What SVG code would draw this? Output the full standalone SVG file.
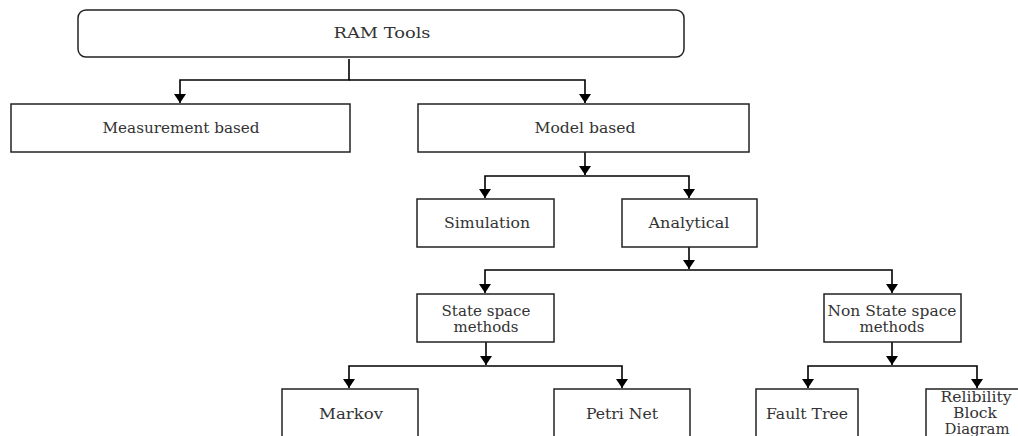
<svg xmlns="http://www.w3.org/2000/svg" width="1018" height="436" viewBox="0 0 1018 436">
<defs>
<marker id="arr" viewBox="0 0 9 12" refX="9" refY="6" markerWidth="9" markerHeight="12" markerUnits="userSpaceOnUse" orient="auto">
<path d="M0,0 L9,6 L0,12 z" fill="#000"/>
</marker>
<style>
.box{fill:#fff;stroke:#222;stroke-width:1.5}
.lbl{font-family:"DejaVu Serif","Liberation Serif",serif;font-size:15.5px;fill:#333;text-anchor:middle}
.c{fill:none;stroke:#000;stroke-width:1.6}
</style>
</defs>
<rect width="1018" height="436" fill="#fff"/>
<g id="connectors">
<path class="c" d="M349,59 V80 H180 V103" marker-end="url(#arr)"/>
<path class="c" d="M349,80 H585 V103" marker-end="url(#arr)"/>
<path class="c" d="M585,152 V175" marker-end="url(#arr)"/>
<path class="c" d="M585,176 H485 V198" marker-end="url(#arr)"/>
<path class="c" d="M585,176 H689 V198" marker-end="url(#arr)"/>
<path class="c" d="M689,247 V269" marker-end="url(#arr)"/>
<path class="c" d="M689,270 H485 V293" marker-end="url(#arr)"/>
<path class="c" d="M689,270 H892 V293" marker-end="url(#arr)"/>
<path class="c" d="M486,342 V365" marker-end="url(#arr)"/>
<path class="c" d="M486,366 H349 V388" marker-end="url(#arr)"/>
<path class="c" d="M486,366 H622 V388" marker-end="url(#arr)"/>
<path class="c" d="M892,342 V365" marker-end="url(#arr)"/>
<path class="c" d="M892,366 H808 V388" marker-end="url(#arr)"/>
<path class="c" d="M892,366 H977 V388" marker-end="url(#arr)"/>
</g>
<g id="ram-tools">
<rect class="box" x="78" y="10" width="606" height="47" rx="8"/>
<text class="lbl" x="382" y="38" textLength="97" lengthAdjust="spacingAndGlyphs">RAM Tools</text>
</g>
<g id="measurement">
<rect class="box" x="11" y="104" width="339" height="48"/>
<text class="lbl" x="181" y="133" textLength="157" lengthAdjust="spacingAndGlyphs">Measurement based</text>
</g>
<g id="model">
<rect class="box" x="418" y="104" width="331" height="48"/>
<text class="lbl" x="585" y="133" textLength="101" lengthAdjust="spacingAndGlyphs">Model based</text>
</g>
<g id="simulation">
<rect class="box" x="417" y="199" width="137" height="48"/>
<text class="lbl" x="487" y="228" textLength="86" lengthAdjust="spacingAndGlyphs">Simulation</text>
</g>
<g id="analytical">
<rect class="box" x="622" y="199" width="135" height="48"/>
<text class="lbl" x="689" y="228" textLength="81" lengthAdjust="spacingAndGlyphs">Analytical</text>
</g>
<g id="state-space">
<rect class="box" x="417" y="294" width="137" height="48"/>
<text class="lbl" x="486" y="316" textLength="89" lengthAdjust="spacingAndGlyphs">State space</text>
<text class="lbl" x="486" y="332" textLength="65" lengthAdjust="spacingAndGlyphs">methods</text>
</g>
<g id="non-state-space">
<rect class="box" x="824" y="294" width="137" height="48"/>
<text class="lbl" x="892" y="316" textLength="129" lengthAdjust="spacingAndGlyphs">Non State space</text>
<text class="lbl" x="892" y="332" textLength="65" lengthAdjust="spacingAndGlyphs">methods</text>
</g>
<g id="markov">
<rect class="box" x="282" y="389" width="136" height="70"/>
<text class="lbl" x="351" y="419" textLength="64" lengthAdjust="spacingAndGlyphs">Markov</text>
</g>
<g id="petri-net">
<rect class="box" x="554" y="389" width="136" height="70"/>
<text class="lbl" x="622" y="419" textLength="72" lengthAdjust="spacingAndGlyphs">Petri Net</text>
</g>
<g id="fault-tree">
<rect class="box" x="756" y="389" width="102" height="70"/>
<text class="lbl" x="807" y="419" textLength="82" lengthAdjust="spacingAndGlyphs">Fault Tree</text>
</g>
<g id="rbd">
<rect class="box" x="926" y="389" width="100" height="70"/>
<text class="lbl" x="976" y="402" textLength="71" lengthAdjust="spacingAndGlyphs">Relibility</text>
<text class="lbl" x="975" y="418" textLength="44" lengthAdjust="spacingAndGlyphs">Block</text>
<text class="lbl" x="977" y="434" textLength="65" lengthAdjust="spacingAndGlyphs">Diagram</text>
</g>
</svg>
